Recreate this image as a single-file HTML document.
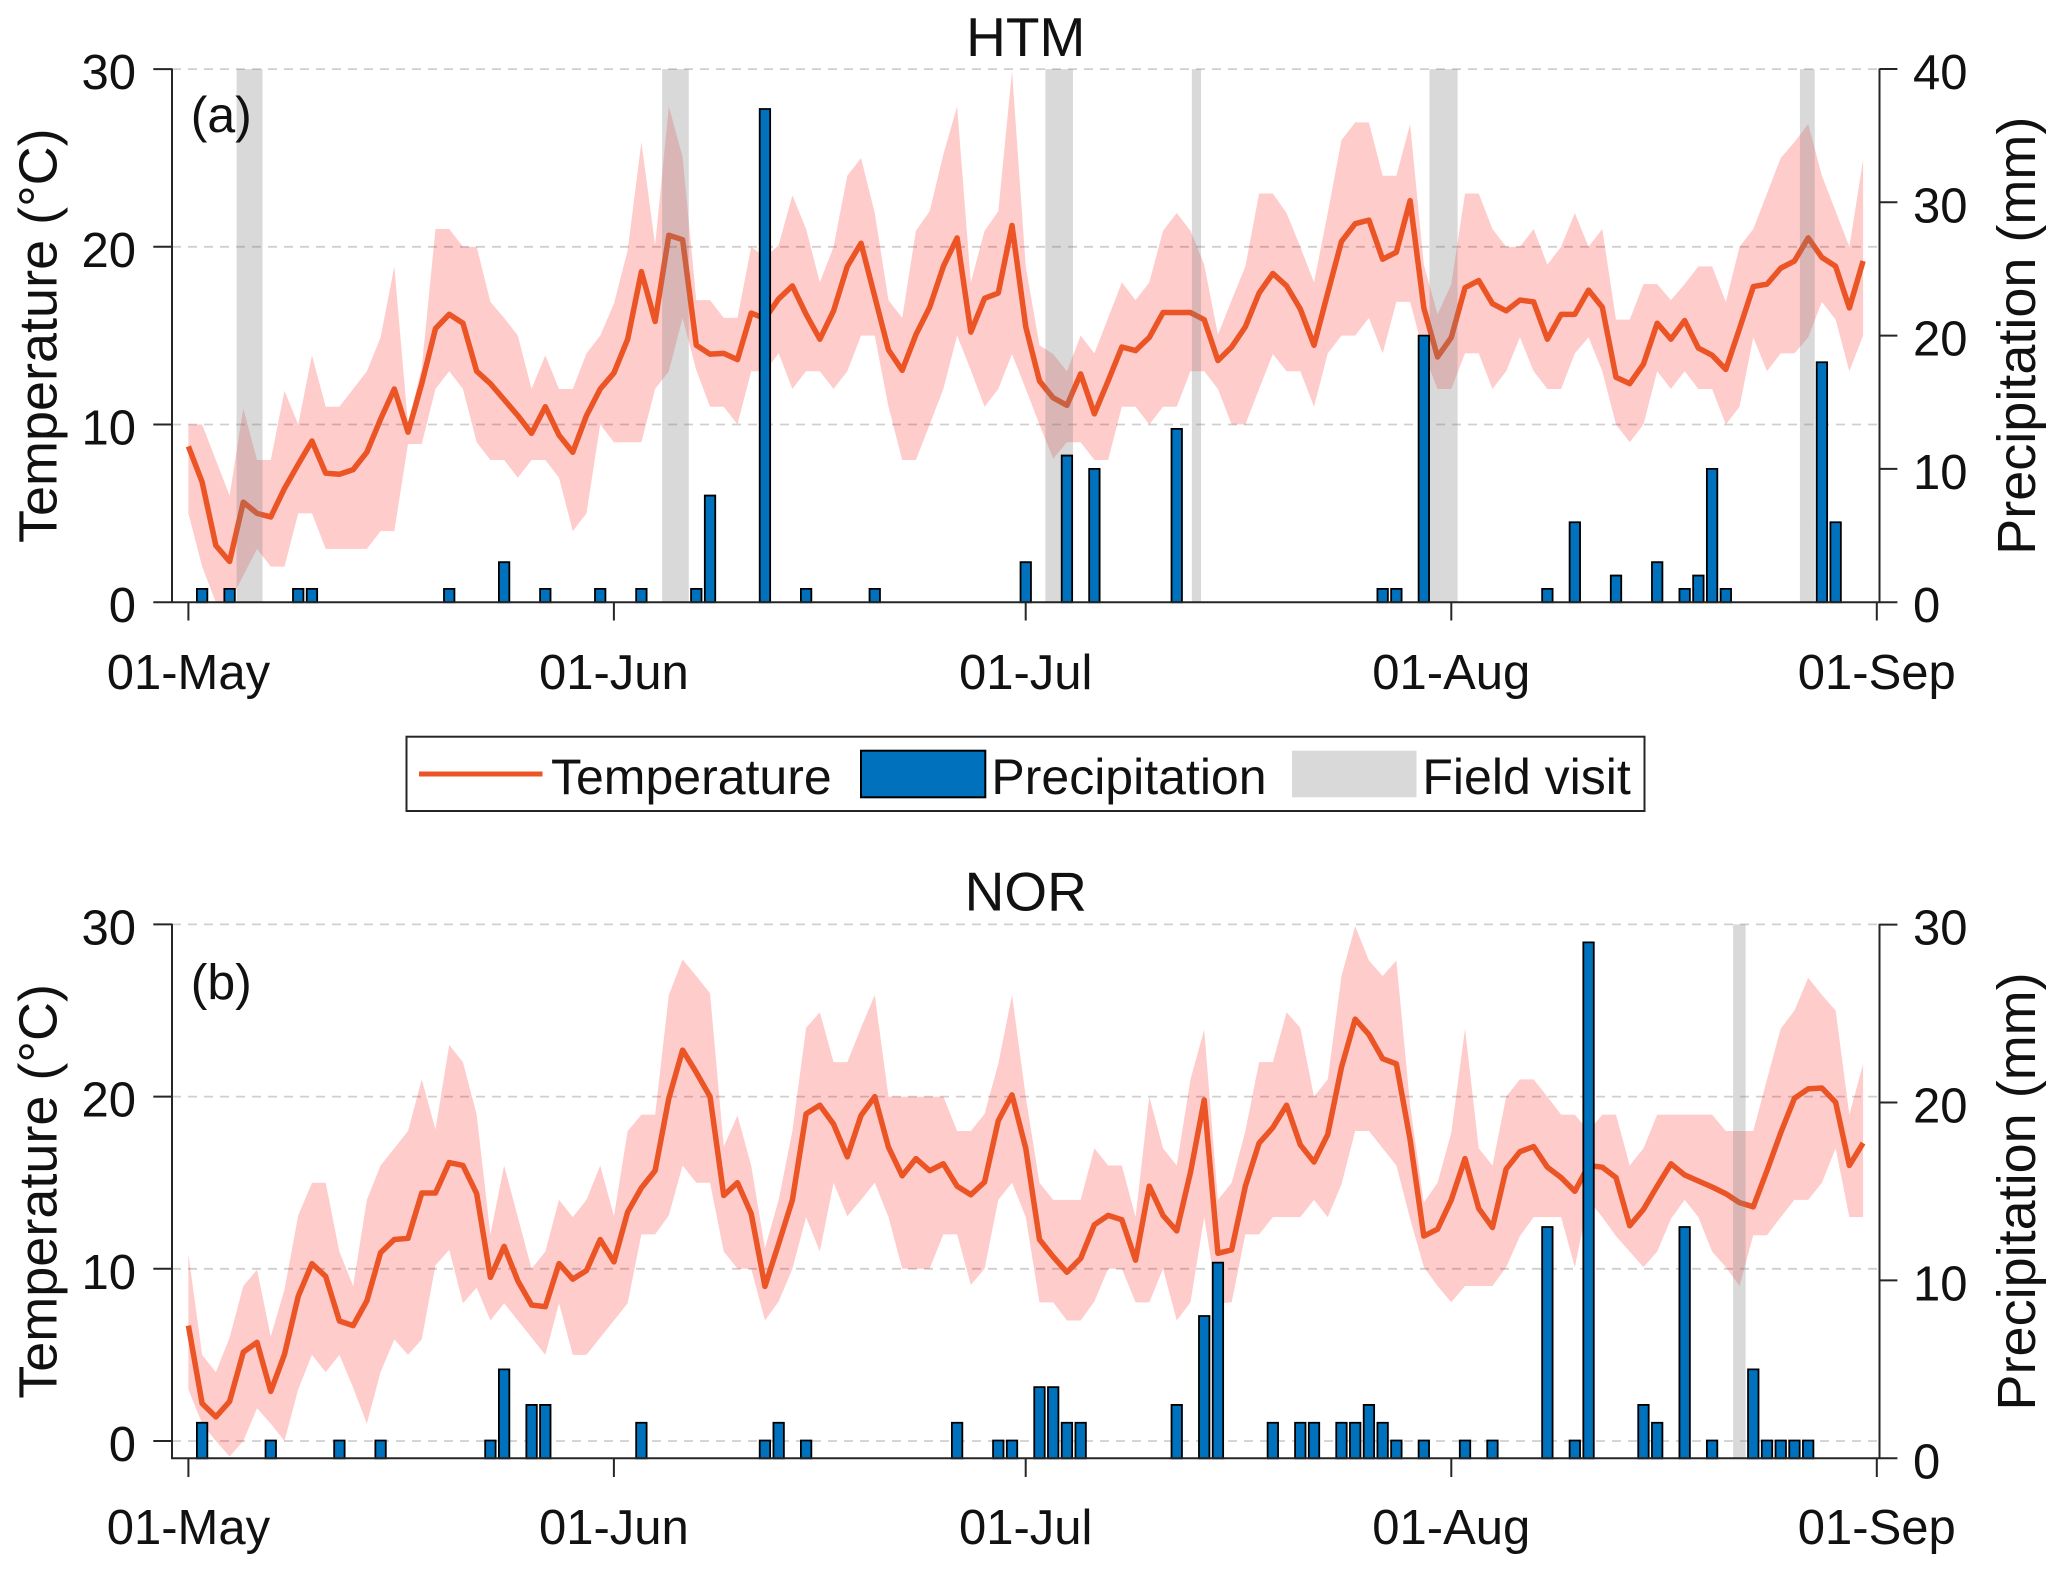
<!DOCTYPE html>
<html><head><meta charset="utf-8"><style>
html,body{margin:0;padding:0;background:#fff;}
svg{display:block;}
text{font-family:"Liberation Sans",Arial,sans-serif;fill:#111;}
</style></head><body>
<svg width="2067" height="1572" viewBox="0 0 2067 1572" xmlns="http://www.w3.org/2000/svg">
<rect width="2067" height="1572" fill="#fff"/>
<path d="M172,69.1H1879.5M172,246.8H1879.5M172,424.5H1879.5M172,924.4H1879.5M172,1096.6H1879.5M172,1268.8H1879.5M172,1441H1879.5" stroke="rgba(38,38,38,0.22)" stroke-width="1.8" stroke-dasharray="9 7" fill="none"/>

<g transform="matrix(13.727 0 0 -17.77 188.4 602.2)">
<polygon fill="rgba(255,0,0,0.2)" points="0,10 1,10 2,8 3,6 4,10.9 5,8 6,8 7,11.9 8,10 9,13.9 10,11 11,11 12,12 13,13 14,14.9 15,18.9 16,10 17,13.2 18,21 19,21 20,20 21,20 22,16.9 23,16 24,15 25,12 26,13.9 27,12 28,12 29,14 30,15 31,16.8 32,19.8 33,25.9 34,20.1 35,27.9 36,25.06 37,17 38,17 39,16 40,16 41,20 42,19.4 43,20.1 44,22.9 45,21 46,18 47,20 48,24 49,25 50,21.9 51,17 52,16 53,20.9 54,22 55,25.2 56,27.9 57,18 58,20.9 59,22 60,29.9 61,18.9 62,14.46 63,13.96 64,13 65,15 66,14 67,16 68,18 69,17 70,18 71,20.9 72,21.9 73,20.9 74,19 75,15.06 76,17 77,18.9 78,23 79,23 80,21.9 81,20 82,18 83,21.9 84,26 85,27 86,27 87,24 88,24 89,26.9 90,19 91,16.2 92,17.9 93,23 94,23 95,21 96,20 97,20 98,21 99,19 100,20 101,21.9 102,20 103,21 104,15.9 105,15.9 106,17.9 107,17.9 108,17 109,17.9 110,18.9 111,18.9 112,16.9 113,20 114,21 115,23 116,25 117,25.9 118,26.9 119,24 120,22 121,20 122,24.9 122,15 121,13 120,15.9 119,16.9 118,14.9 117,14 116,14 115,13 114,14.9 113,11 112,10 111,12 110,12 109,13 108,12 107,13 106,10 105,9 104,10 103,13 102,14.9 101,14 100,12 99,12 98,13 97,14.9 96,13 95,12 94,14 93,14 92,12 91,12 90,14 89,16.9 88,16.9 87,14 86,16 85,15 84,15 83,14 82,11 81,13 80,13 79,13.96 78,12 77,10 76,10 75,12 74,13 73,13 72,11 71,11 70,10 69,11 68,11 67,8 66,8 65,9 64,9 63,8.07 62,10 61,12 60,13.96 59,12 58,11 57,13.05 56,15 55,12 54,10 53,8 52,8 51,11 50,15 49,15 48,13 47,12 46,13 45,13 44,12 43,14 42,13 41,13 40,10 39,11 38,11 37,13.05 36,16 35,13 34,12 33,9 32,9 31,9 30,10 29,5 28,4 27,7 26,8 25,8 24,7 23,8 22,8 21,9 20,12 19,13 18,12 17,8.9 16,8.9 15,4 14,4 13,3 12,3 11,3 10,3 9,5 8,5 7,2 6,2 5,3 4,1.5 3,0 2,0 1,2 0,5"/>
<polyline fill="none" stroke="#eb5424" stroke-width="5.5" stroke-linejoin="round" vector-effect="non-scaling-stroke" points="0,8.77 1,6.76 2,3.19 3,2.29 4,5.63 5,5 6,4.8 7,6.4 8,7.76 9,9.07 10,7.26 11,7.2 12,7.46 13,8.44 14,10.3 15,12 16,9.57 17,12.3 18,15.4 19,16.2 20,15.7 21,13 22,12.3 23,11.4 24,10.5 25,9.5 26,11 27,9.4 28,8.44 29,10.5 30,12 31,12.9 32,14.8 33,18.6 34,15.8 35,20.65 36,20.4 37,14.46 38,13.96 39,14 40,13.65 41,16.27 42,15.96 43,17.07 44,17.8 45,16.2 46,14.8 47,16.4 48,18.9 49,20.2 50,17.2 51,14.2 52,13.05 53,15.06 54,16.6 55,18.9 56,20.5 57,15.2 58,17.1 59,17.4 60,21.2 61,15.5 62,12.45 63,11.5 64,11.08 65,12.85 66,10.6 67,12.45 68,14.36 69,14.16 70,14.9 71,16.3 72,16.3 73,16.3 74,15.9 75,13.6 76,14.36 77,15.5 78,17.4 79,18.5 80,17.8 81,16.5 82,14.46 83,17.4 84,20.3 85,21.3 86,21.5 87,19.3 88,19.7 89,22.6 90,16.56 91,13.8 92,14.9 93,17.7 94,18.1 95,16.8 96,16.4 97,17 98,16.9 99,14.8 100,16.2 101,16.2 102,17.56 103,16.6 104,12.66 105,12.3 106,13.4 107,15.7 108,14.8 109,15.85 110,14.3 111,13.9 112,13.1 113,15.4 114,17.76 115,17.9 116,18.8 117,19.2 118,20.5 119,19.4 120,18.9 121,16.56 122,19.2"/>
<path fill="rgba(128,128,128,0.3)" d="M3.51,0h1.89v30h-1.89zM34.51,0h1.94v30h-1.94zM62.43,0h2.01v30h-2.01zM73.1,0h0.67v30h-0.67zM90.41,0h2.05v30h-2.05zM117.4,0h1.08v30h-1.08z"/>
</g>
<g transform="matrix(13.727 0 0 -13.33 188.4 602.2)">
<path fill="#0072bd" stroke="#000" stroke-width="1.8" vector-effect="non-scaling-stroke" d="M0.62,0h.76v1h-.76zM2.62,0h.76v1h-.76zM7.62,0h.76v1h-.76zM8.62,0h.76v1h-.76zM18.62,0h.76v1h-.76zM22.62,0h.76v3h-.76zM25.62,0h.76v1h-.76zM29.62,0h.76v1h-.76zM32.62,0h.76v1h-.76zM36.62,0h.76v1h-.76zM37.62,0h.76v8h-.76zM41.62,0h.76v37h-.76zM44.62,0h.76v1h-.76zM49.62,0h.76v1h-.76zM60.62,0h.76v3h-.76zM63.62,0h.76v11h-.76zM65.62,0h.76v10h-.76zM71.62,0h.76v13h-.76zM86.62,0h.76v1h-.76zM87.62,0h.76v1h-.76zM89.62,0h.76v20h-.76zM98.62,0h.76v1h-.76zM100.62,0h.76v6h-.76zM103.62,0h.76v2h-.76zM106.62,0h.76v3h-.76zM108.62,0h.76v1h-.76zM109.62,0h.76v2h-.76zM110.62,0h.76v10h-.76zM111.62,0h.76v1h-.76zM118.62,0h.76v18h-.76zM119.62,0h.76v6h-.76z"/>
</g>

<g transform="matrix(13.727 0 0 -17.22 188.4 1441)">
<polygon fill="rgba(255,0,0,0.2)" points="0,10.86 1,5 2,4 3,6 4,9 5,9.95 6,6.07 7,8.8 8,13.1 9,15 10,15 11,11 12,9 13,14 14,16 15,17 16,18 17,21 18,18.1 19,23 20,22 21,18.95 22,12 23,16 24,13 25,10 26,11 27,14 28,13 29,14 30,16 31,13.06 32,18 33,18.95 34,18.95 35,25.9 36,27.97 37,27 38,26 39,17.1 40,18.9 41,16 42,11.2 43,14 44,18 45,24 46,24.9 47,22 48,22 49,24 50,25.9 51,20 52,20 53,20 54,20 55,20 56,18 57,18 58,19 59,21.9 60,25.9 61,20 62,15 63,14 64,14 65,14 66,17 67,16 68,16 69,13 70,20 71,17 72,16 73,21 74,23.9 75,14 76,15 77,18 78,22 79,22 80,24.9 81,24 82,20 83,21 84,27 85,29.9 86,27.9 87,27 88,27.9 89,19.5 90,13.84 91,15 92,17.9 93,23.95 94,17 95,16 96,20 97,21 98,21 99,20 100,18.95 101,18.95 102,18 103,18.95 104,18.95 105,16 106,17 107,18.95 108,18.95 109,18.95 110,18.95 111,18.95 112,18 113,18 114,18 115,21 116,23.95 117,25 118,26.9 119,25.9 120,25 121,18.95 122,21.9 122,13 121,13 120,17 119,15 118,14 117,14 116,13 115,11.95 114,11.95 113,9 112,10.1 111,11 110,13 109,14 108,12.9 107,11 106,10.1 105,11 104,11.9 103,13 102,14 101,10.1 100,13 99,13 98,13 97,11.9 96,10.1 95,9 94,9 93,9 92,8.06 91,9 90,10.1 89,12.9 88,16 87,17 86,18 85,18 84,14.9 83,13 82,14 81,13 80,13 79,13 78,12 77,12 76,8.05 75,8 74,13 73,8.05 72,7 71,10 70,8.05 69,8.05 68,10 67,10 66,8.1 65,7 64,7 63,8.05 62,8.05 61,13 60,15 59,14 58,10 57,9.07 56,12 55,12 54,10 53,10 52,10 51,13 50,15 49,14 48,13.05 47,15 46,11 45,13 44,10 43,8.1 42,7 41,10 40,10 39,11 38,15 37,15 36,16 35,13.1 34,12 33,12 32,8 31,7 30,6 29,5 28,5 27,8 26,5 25,6 24,7 23,8 22,7 21,8.9 20,8 19,11.1 18,10.2 17,5.9 16,5 15,5.9 14,4 13,1 12,3.1 11,5 10,4 9,5 8,3 7,0 6,1 5,1.9 4,0 3,-0.9 2,0 1,1 0,3"/>
<polyline fill="none" stroke="#eb5424" stroke-width="5.5" stroke-linejoin="round" vector-effect="non-scaling-stroke" points="0,6.7 1,2.18 2,1.4 3,2.3 4,5.16 5,5.73 6,2.88 7,5.03 8,8.4 9,10.3 10,9.56 11,6.97 12,6.7 13,8.14 14,10.94 15,11.7 16,11.77 17,14.4 18,14.4 19,16.17 20,16 21,14.36 22,9.5 23,11.3 24,9.3 25,7.9 26,7.8 27,10.3 28,9.4 29,9.9 30,11.7 31,10.4 32,13.3 33,14.7 34,15.7 35,19.9 36,22.7 37,21.4 38,20 39,14.26 40,15 41,13.2 42,8.98 43,11.46 44,14 45,19 46,19.5 47,18.4 48,16.5 49,18.9 50,20 51,17.06 52,15.4 53,16.4 54,15.7 55,16.1 56,14.8 57,14.3 58,15.04 59,18.6 60,20.1 61,17 62,11.7 63,10.7 64,9.8 65,10.6 66,12.56 67,13.1 68,12.85 69,10.5 70,14.8 71,13.1 72,12.2 73,15.6 74,19.8 75,10.9 76,11.1 77,14.8 78,17.3 79,18.2 80,19.5 81,17.2 82,16.2 83,17.8 84,21.7 85,24.5 86,23.6 87,22.2 88,21.9 89,17.5 90,11.9 91,12.3 92,14 93,16.4 94,13.5 95,12.4 96,15.8 97,16.8 98,17.1 99,15.9 100,15.3 101,14.5 102,16 103,15.9 104,15.3 105,12.5 106,13.45 107,14.8 108,16.1 109,15.45 110,15.1 111,14.75 112,14.36 113,13.84 114,13.6 115,15.7 116,17.9 117,19.9 118,20.45 119,20.5 120,19.67 121,16 122,17.3"/>
<path fill="rgba(128,128,128,0.3)" d="M112.53,-1h0.91v31h-0.91z"/>
</g>
<g transform="matrix(13.727 0 0 -17.79 188.4 1458.3)">
<path fill="#0072bd" stroke="#000" stroke-width="1.8" vector-effect="non-scaling-stroke" d="M0.62,0h.76v2h-.76zM5.62,0h.76v1h-.76zM10.62,0h.76v1h-.76zM13.62,0h.76v1h-.76zM21.62,0h.76v1h-.76zM22.62,0h.76v5h-.76zM24.62,0h.76v3h-.76zM25.62,0h.76v3h-.76zM32.62,0h.76v2h-.76zM41.62,0h.76v1h-.76zM42.62,0h.76v2h-.76zM44.62,0h.76v1h-.76zM55.62,0h.76v2h-.76zM58.62,0h.76v1h-.76zM59.62,0h.76v1h-.76zM61.62,0h.76v4h-.76zM62.62,0h.76v4h-.76zM63.62,0h.76v2h-.76zM64.62,0h.76v2h-.76zM71.62,0h.76v3h-.76zM73.62,0h.76v8h-.76zM74.62,0h.76v11h-.76zM78.62,0h.76v2h-.76zM80.62,0h.76v2h-.76zM81.62,0h.76v2h-.76zM83.62,0h.76v2h-.76zM84.62,0h.76v2h-.76zM85.62,0h.76v3h-.76zM86.62,0h.76v2h-.76zM87.62,0h.76v1h-.76zM89.62,0h.76v1h-.76zM92.62,0h.76v1h-.76zM94.62,0h.76v1h-.76zM98.62,0h.76v13h-.76zM100.62,0h.76v1h-.76zM101.62,0h.76v29h-.76zM105.62,0h.76v3h-.76zM106.62,0h.76v2h-.76zM108.62,0h.76v13h-.76zM110.62,0h.76v1h-.76zM113.62,0h.76v5h-.76zM114.62,0h.76v1h-.76zM115.62,0h.76v1h-.76zM116.62,0h.76v1h-.76zM117.62,0h.76v1h-.76z"/>
</g>

<path stroke="#262626" stroke-width="2" fill="none" d="M172,68.5V603M1879.5,68.5V603M153.3,602.2H1880.5M153.3,424.5H172M153.3,246.8H172M153.3,69.1H172M1879.5,69H1897.4M1879.5,202.3H1897.4M1879.5,335.6H1897.4M1879.5,468.9H1897.4M1879.5,602.2H1897.4M188.4,602.2V620.5M613.9,602.2V620.5M1025.7,602.2V620.5M1451.3,602.2V620.5M1876.8,602.2V620.5M172,923.8V1459M1879.5,923.8V1459M171,1458.3H1880.5M153.3,1441H172M153.3,1268.8H172M153.3,1096.6H172M153.3,924.4H172M1879.5,924.6H1897.4M1879.5,1102.5H1897.4M1879.5,1280.4H1897.4M1879.5,1458.3H1897.4M188.4,1458.3V1477M613.9,1458.3V1477M1025.7,1458.3V1477M1451.3,1458.3V1477M1876.8,1458.3V1477"/>

<g font-size="49" text-anchor="end">
<text x="136" y="622.2">0</text><text x="136" y="444.5">10</text><text x="136" y="266.8">20</text><text x="136" y="89.1">30</text>
<text x="136" y="1461">0</text><text x="136" y="1288.8">10</text><text x="136" y="1116.6">20</text><text x="136" y="944.4">30</text>
</g>
<g font-size="49">
<text x="1913" y="622.2">0</text><text x="1913" y="488.9">10</text><text x="1913" y="355.6">20</text><text x="1913" y="222.3">30</text><text x="1913" y="89">40</text>
<text x="1913" y="1478.3">0</text><text x="1913" y="1300.4">10</text><text x="1913" y="1122.5">20</text><text x="1913" y="944.6">30</text>
</g>
<g font-size="49" text-anchor="middle">
<text x="188.4" y="689">01-May</text><text x="613.9" y="689">01-Jun</text><text x="1025.7" y="689">01-Jul</text><text x="1451.3" y="689">01-Aug</text><text x="1876.8" y="689">01-Sep</text>
<text x="188.4" y="1544">01-May</text><text x="613.9" y="1544">01-Jun</text><text x="1025.7" y="1544">01-Jul</text><text x="1451.3" y="1544">01-Aug</text><text x="1876.8" y="1544">01-Sep</text>
</g>
<text x="1025.7" y="56" font-size="55" text-anchor="middle">HTM</text>
<text x="1025.7" y="910.7" font-size="55" text-anchor="middle">NOR</text>
<text x="190.7" y="132" font-size="50">(a)</text>
<text x="190.7" y="999.5" font-size="50">(b)</text>
<text transform="translate(56.6,335.7) rotate(-90)" font-size="54" text-anchor="middle">Temperature (°C)</text>
<text transform="translate(2035,335.7) rotate(-90)" font-size="54" text-anchor="middle">Precipitation (mm)</text>
<text transform="translate(56.6,1191.4) rotate(-90)" font-size="54" text-anchor="middle">Temperature (°C)</text>
<text transform="translate(2035,1191.4) rotate(-90)" font-size="54" text-anchor="middle">Precipitation (mm)</text>

<rect x="406.5" y="736.7" width="1238" height="74.3" fill="#fff" stroke="#262626" stroke-width="2"/>
<line x1="419" y1="774" x2="542.5" y2="774" stroke="#eb5424" stroke-width="5"/>
<text x="551" y="794" font-size="50">Temperature</text>
<rect x="861" y="750.7" width="124.3" height="46.6" fill="#0072bd" stroke="#000" stroke-width="2"/>
<text x="991.4" y="794" font-size="50">Precipitation</text>
<rect x="1292" y="750.7" width="124.5" height="46.6" fill="#d9d9d9"/>
<text x="1422.4" y="794" font-size="50">Field visit</text>
</svg>
</body></html>
